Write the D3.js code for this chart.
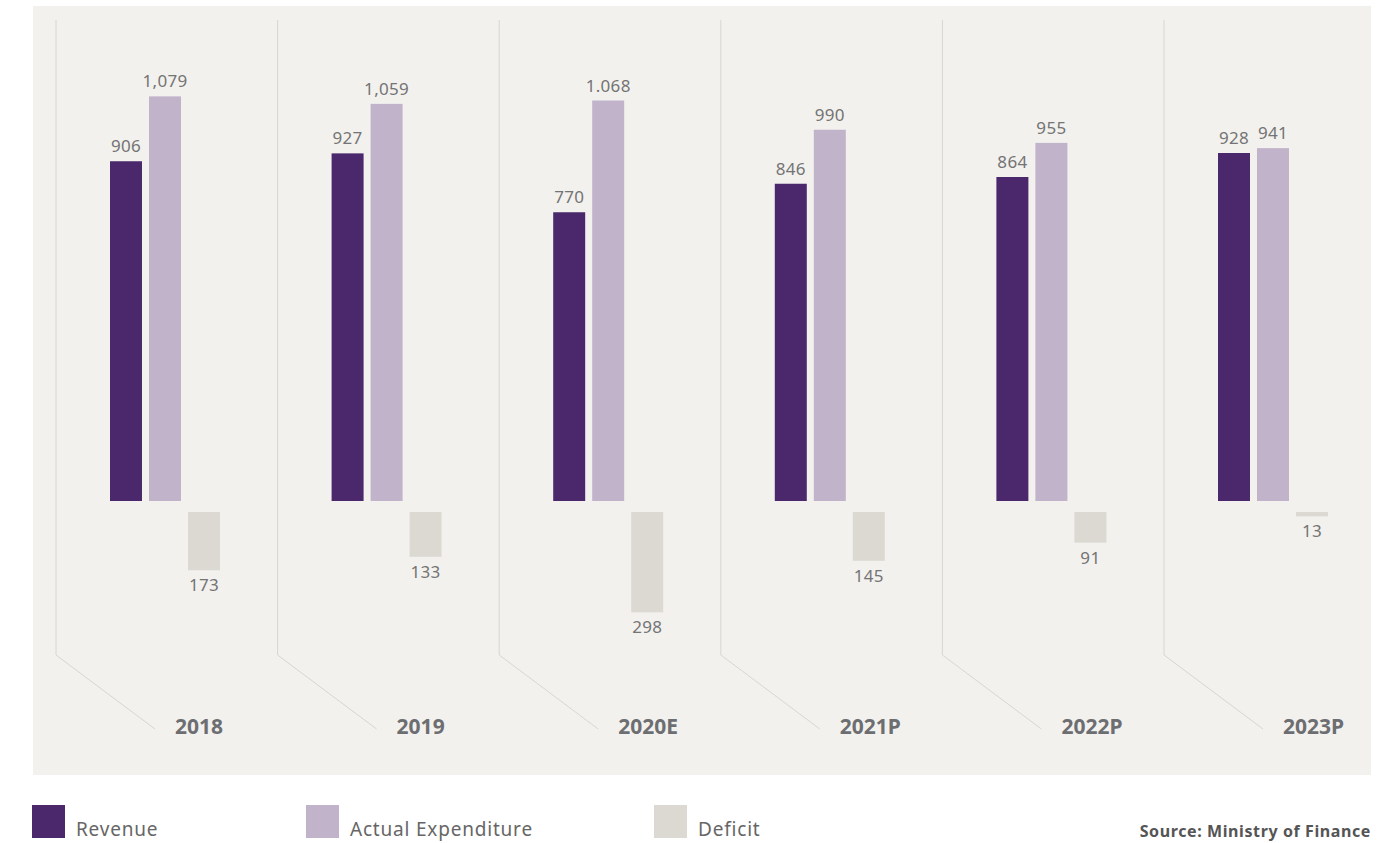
<!DOCTYPE html>
<html>
<head>
<meta charset="utf-8">
<script src="https://d3js.org/d3.v7.min.js"></script>
<style>
  html, body { margin: 0; background: #fff; }
  svg text { font-family: "Noto Sans", "Open Sans", sans-serif; }
  .val { font-size: 17px; fill: #747474; letter-spacing: 0.3px; }
  .year { font-size: 21px; font-weight: bold; fill: #6d6e71; }
  .legend { font-size: 19px; fill: #666; letter-spacing: 0.8px; }
  .source { font-size: 16px; font-weight: bold; fill: #555; letter-spacing: 0.6px; }
</style>
</head>
<body>
<div id="chart"></div>
<script>
// values in SAR bn
var years = ["2018", "2019", "2020E", "2021P", "2022P", "2023P"];
var revenue = [906, 927, 770, 846, 864, 928];
var expenditure = [1079, 1059, 1068, 990, 955, 941];
var deficit = [173, 133, 298, 145, 91, 13];
var revenueLabels = ["906", "927", "770", "846", "864", "928"];
var expenditureLabels = ["1,079", "1,059", "1.068", "990", "955", "941"];
var deficitLabels = ["173", "133", "298", "145", "91", "13"];
var seriesNames = ["Revenue", "Actual Expenditure", "Deficit"];
var colors = ["#4b276b", "#c1b3c9", "#dcd9d2"];
var sourceText = "Source: Ministry of Finance";

var width = 1386, height = 843;
var baseY = 501, deficitTop = 512;

var svg = d3.select("#chart").append("svg")
    .attr("width", width)
    .attr("height", height);

svg.append("rect")
    .attr("x", 33).attr("y", 6)
    .attr("width", 1338).attr("height", 769)
    .attr("fill", "#f2f1ee");

var x = d3.scaleBand().domain(years).range([56, 56 + 221.6 * years.length]);
var inner = d3.scaleBand().domain(seriesNames).range([54, 164]).paddingInner(0.18);

var y = d3.scaleLinear().domain([0, 1000]).range([0, 375]);
var yDef = d3.scaleLinear().domain([0, 300]).range([0, 101]);

var rows = years.map(function(yr, i) {
    return {year: yr, rev: revenue[i], exp: expenditure[i], def: deficit[i],
            revL: revenueLabels[i], expL: expenditureLabels[i], defL: deficitLabels[i]};
});

var g = svg.selectAll(".panel")
    .data(rows)
    .enter().append("g")
    .attr("class", "panel")
    .attr("transform", function(d) { return "translate(" + x(d.year) + ",0)"; });

// bracket line: vertical then diagonal
g.append("path")
    .attr("d", "M0,20 L0,655 L99,729")
    .attr("fill", "none")
    .attr("stroke", "#d8d6d1")
    .attr("stroke-width", 1);

g.append("rect")
    .attr("x", inner(seriesNames[0]))
    .attr("y", function(d) { return baseY - y(d.rev); })
    .attr("width", inner.bandwidth())
    .attr("height", function(d) { return y(d.rev); })
    .attr("fill", colors[0]);

g.append("rect")
    .attr("x", inner(seriesNames[1]))
    .attr("y", function(d) { return baseY - y(d.exp); })
    .attr("width", inner.bandwidth())
    .attr("height", function(d) { return y(d.exp); })
    .attr("fill", colors[1]);

g.append("rect")
    .attr("x", inner(seriesNames[2]))
    .attr("y", deficitTop)
    .attr("width", inner.bandwidth())
    .attr("height", function(d) { return yDef(d.def); })
    .attr("fill", colors[2]);

g.append("text")
    .attr("class", "val")
    .attr("text-anchor", "middle")
    .attr("x", inner(seriesNames[0]) + inner.bandwidth() / 2)
    .attr("y", function(d) { return baseY - y(d.rev) - 9; })
    .text(function(d) { return d.revL; });

g.append("text")
    .attr("class", "val")
    .attr("text-anchor", "middle")
    .attr("x", inner(seriesNames[1]) + inner.bandwidth() / 2)
    .attr("y", function(d) { return baseY - y(d.exp) - 9; })
    .text(function(d) { return d.expL; });

g.append("text")
    .attr("class", "val")
    .attr("text-anchor", "middle")
    .attr("x", inner(seriesNames[2]) + inner.bandwidth() / 2)
    .attr("y", function(d) { return deficitTop + yDef(d.def) + 21; })
    .text(function(d) { return d.defL; });

g.append("text")
    .attr("class", "year")
    .attr("x", 119)
    .attr("y", 734)
    .text(function(d) { return d.year; });

// legend
var legendX = [32, 306, 654];
var lg = svg.selectAll(".lg")
    .data(seriesNames)
    .enter().append("g")
    .attr("class", "lg")
    .attr("transform", function(d, i) { return "translate(" + legendX[i] + ",805)"; });

lg.append("rect")
    .attr("width", 33).attr("height", 33)
    .attr("fill", function(d, i) { return colors[i]; });

lg.append("text")
    .attr("class", "legend")
    .attr("x", 44).attr("y", 31)
    .text(function(d) { return d; });

svg.append("text")
    .attr("class", "source")
    .attr("text-anchor", "end")
    .attr("x", 1371).attr("y", 837)
    .text(sourceText);
</script>
</body>
</html>
